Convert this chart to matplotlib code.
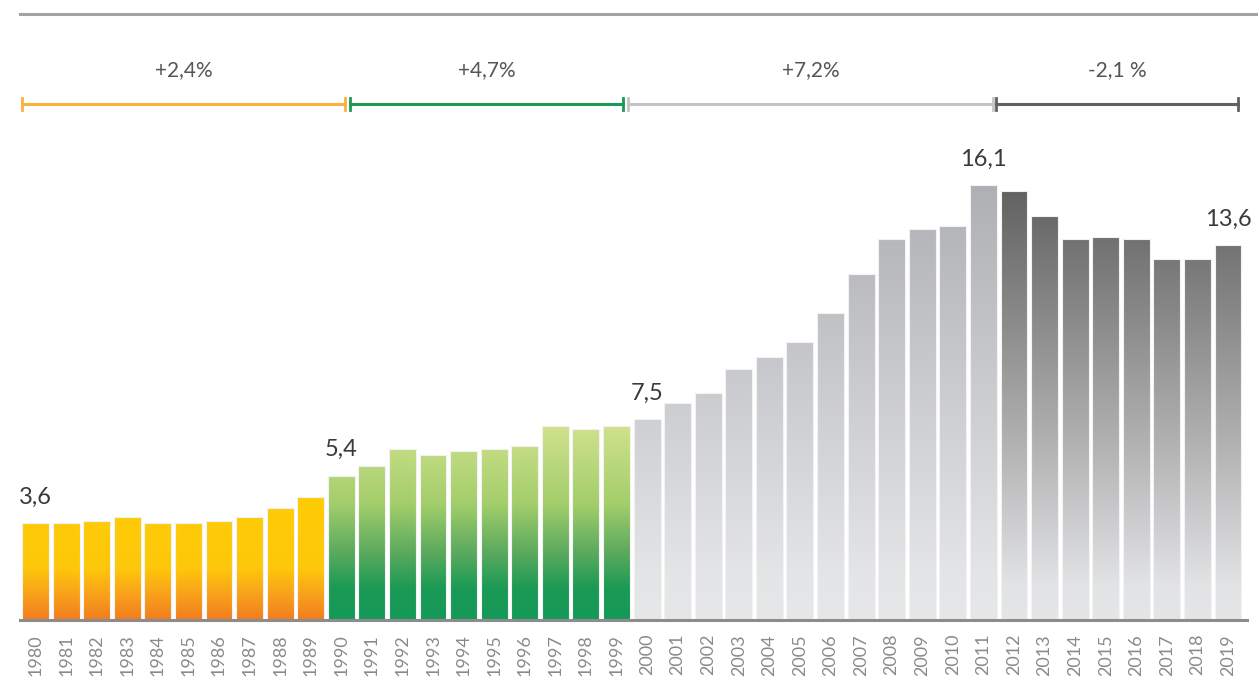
import numpy as np
import matplotlib
matplotlib.use("Agg")
import matplotlib.pyplot as plt
from matplotlib.colors import LinearSegmentedColormap

plt.rcParams['font.family'] = ['Lato', 'DejaVu Sans']

# Data
years = list(range(1980, 2020))
values = [3.6, 3.6, 3.65, 3.8, 3.6, 3.6, 3.65, 3.8, 4.15, 4.55,
          5.35, 5.7, 6.33, 6.1, 6.26, 6.33, 6.44, 7.18, 7.07, 7.18,
          7.45, 8.04, 8.4, 9.3, 9.74, 10.3, 11.37, 12.8, 14.1, 14.5,
          14.6, 16.1, 15.9, 14.96, 14.1, 14.2, 14.1, 13.37, 13.37, 13.9]

# periods: (first index, last index, growth label)
periods = [(0, 9, '+2,4%'), (10, 19, '+4,7%'), (20, 31, '+7,2%'), (32, 39, '-2,1 %')]
value_labels = [(0, '3,6'), (10, '5,4'), (20, '7,5'), (31, '16,1'), (39, '13,6')]

# gradient stops per period (fraction of group max, colour)
grad_stops = [
    [(0, '#F37C20'), (0.2, '#F8A01B'), (0.42, '#FEC80B'), (1, '#FFCC05')],
    [(0, '#15995A'), (0.16, '#1A9A55'), (0.35, '#5CAA5E'), (0.6, '#A3CE6B'), (1, '#D0E18C')],
    [(0, '#E6E7E9'), (0.1, '#E4E5E7'), (1, '#AFB0B4')],
    [(0, '#E5E6E8'), (0.08, '#E2E3E5'), (0.4, '#B3B3B4'), (0.68, '#8E8D8D'), (1, '#626262')],
]
bracket_colors = ['#FBB040', '#1A9A55', '#C4C4C6', '#616161']
# bracket spans in figure pixels (layout)
bracket_px = [(22, 345), (350, 623), (628, 993), (996, 1238)]

W, H = 1258, 679
fig = plt.figure(figsize=(W / 100, H / 100), dpi=100)
ax = fig.add_axes([20 / W, (H - 620) / H, (1247 - 20) / W, 480 / H])

x = np.arange(len(years))
bw = 0.88
grad = np.linspace(0, 1, 256).reshape(-1, 1)

for (i0, i1, _), stops in zip(periods, grad_stops):
    cmap = LinearSegmentedColormap.from_list('g', stops)
    gmax = max(values[i0:i1 + 1])
    bars = ax.bar(x[i0:i1 + 1], values[i0:i1 + 1], width=bw,
                  facecolor='none', edgecolor='#F2F2F2', linewidth=0.8, zorder=3)
    for xi, bar in zip(x[i0:i1 + 1], bars):
        im = ax.imshow(grad, cmap=cmap, origin='lower', aspect='auto',
                       extent=(xi - bw / 2, xi + bw / 2, 0, gmax), zorder=2)
        im.set_clip_path(bar)

ax.set_xlim(-0.507, 39.62)
ax.set_ylim(0, 480 / 27)

for idx, txt in value_labels:
    ax.annotate(txt, (x[idx], values[idx]), xytext=(0, 11), textcoords='offset points',
                ha='center', va='bottom', fontsize=17, color='#3A3A3A')

for s in ['top', 'right', 'left']:
    ax.spines[s].set_visible(False)
ax.spines['bottom'].set_color('#8C8C8C')
ax.spines['bottom'].set_linewidth(2.2)
ax.spines['bottom'].set_zorder(5)
ax.set_yticks([])
ax.set_xticks(x)
ax.set_xticklabels(years, rotation=90, fontsize=13, color='#8A8A8A')
ax.tick_params(axis='x', length=0, pad=10)

# top rule
fig.add_artist(plt.Line2D([20 / W, 1], [1 - 14 / H] * 2, color='#A3A3A3', linewidth=2.2))

# period brackets and growth labels
by = 1 - 104 / H
cap = 6 / H
for (x0, x1), col, (_, _, lab) in zip(bracket_px, bracket_colors, periods):
    fig.add_artist(plt.Line2D([x0 / W, x1 / W], [by, by], color=col, linewidth=2.2))
    for xe in (x0, x1):
        fig.add_artist(plt.Line2D([xe / W] * 2, [by - cap, by + cap], color=col, linewidth=2))
    fig.text((x0 + x1) / 2 / W, 1 - 70 / H, lab, ha='center', va='center',
             fontsize=15, color='#555555')

fig.savefig('out.png', dpi=100)
